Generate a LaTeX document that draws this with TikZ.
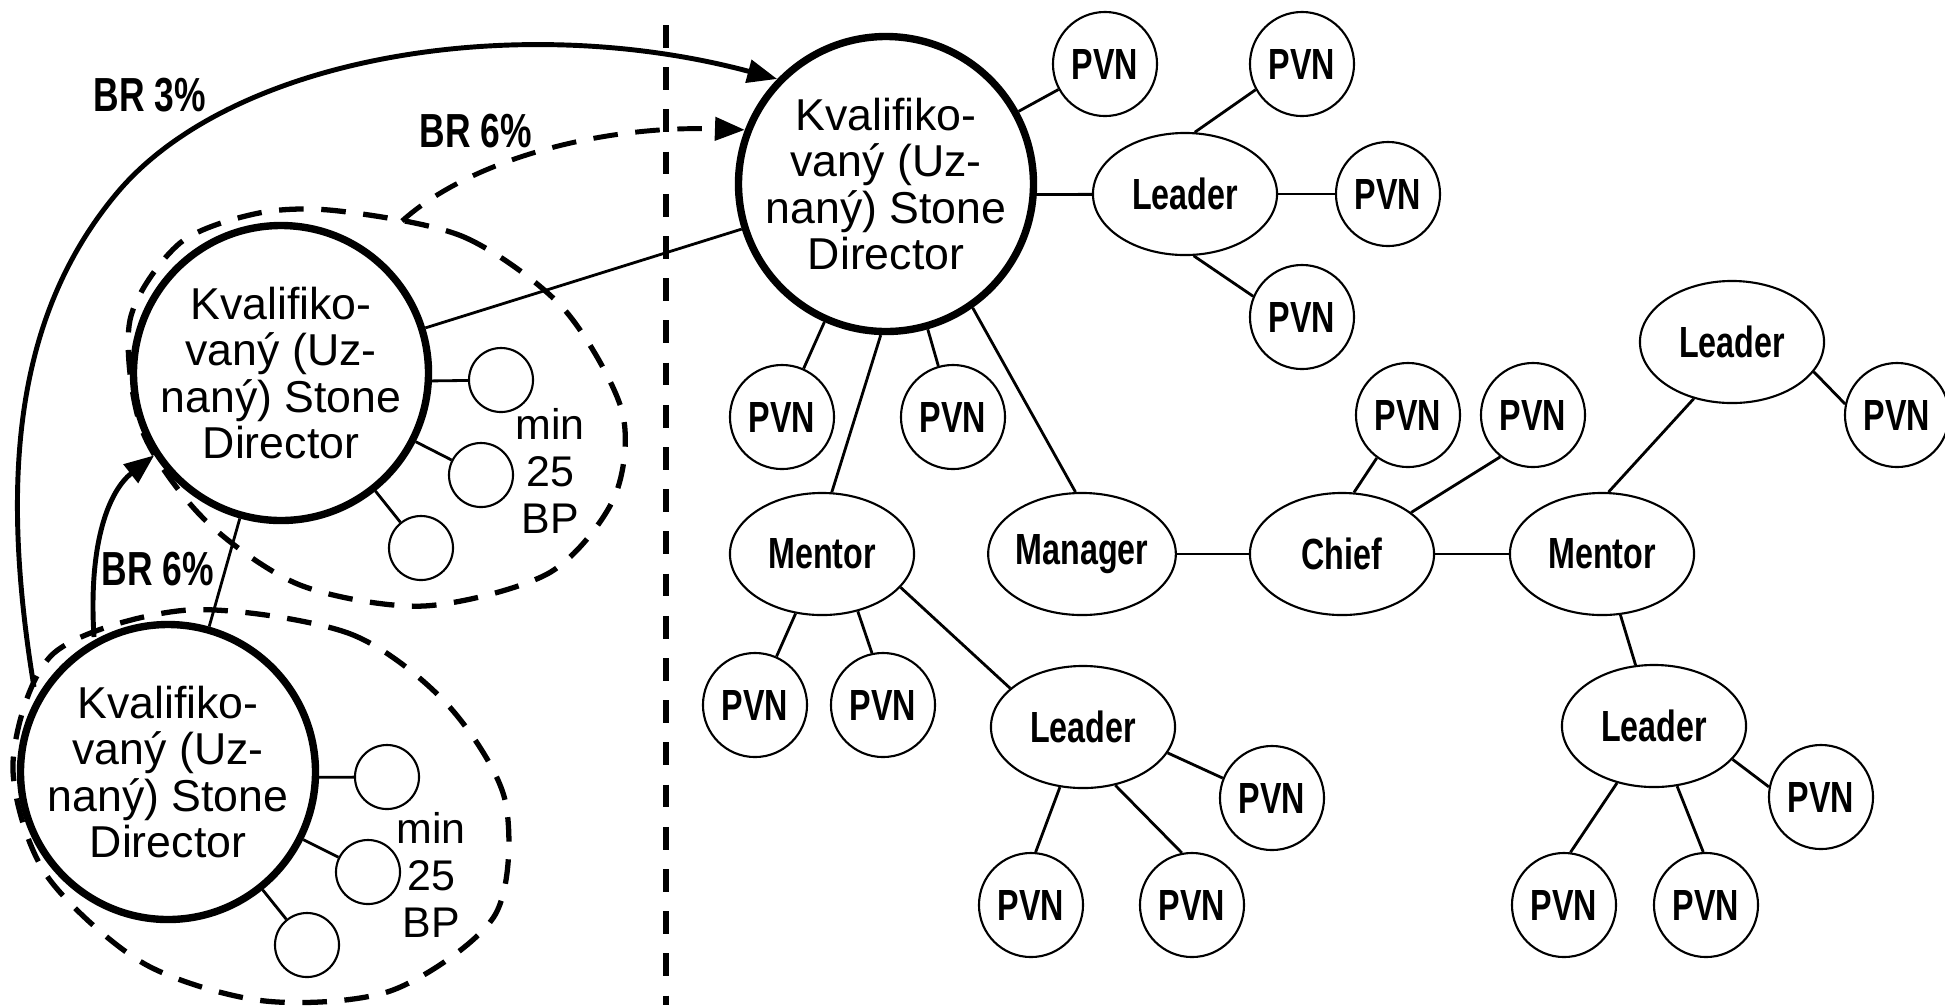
\documentclass[tikz,border=0pt]{standalone}
\usepackage{fontspec}
\usetikzlibrary{arrows.meta, shapes.geometric}
\newfontfamily\dirfont{Liberation Sans}
\newfontfamily\labfont[FakeStretch=0.74]{Liberation Sans Bold}

\tikzset{
  director/.style={circle, draw, line width=2.1pt, minimum size=2.76cm, inner sep=0pt, align=center, font={\dirfont\fontsize{12.7}{13.2}\selectfont}},
  pvn/.style={circle, draw, line width=0.6pt, minimum size=1.04cm, inner sep=0pt, font={\labfont\fontsize{12.4}{14}\selectfont}},
  role/.style={ellipse, draw, line width=0.6pt, minimum width=1.84cm, minimum height=1.22cm, inner sep=0pt, font={\labfont\fontsize{12.4}{14}\selectfont}},
  dot/.style={circle, draw, line width=0.6pt, minimum size=0.64cm, inner sep=0pt},
  link/.style={line width=0.8pt},
  grp/.style={line width=1.5pt, dash pattern=on 7pt off 5pt},
  br/.style={line width=1.4pt, -{Triangle[length=8.5pt, width=6.5pt]}},
  brlabel/.style={font={\labfont\fontsize{13.6}{15}\selectfont}},
  minbp/.style={align=center, font={\dirfont\fontsize{12.2}{13.4}\selectfont}}
}

\begin{document}
\begin{tikzpicture}[x=0.01cm, y=-0.01cm]
    \useasboundingbox (0,0) rectangle (1945,1005);

    \coordinate (divtop) at (666,25);
    \coordinate (divbot) at (666,1005);
    \draw [line width=1.6pt, dash pattern=on 6.5pt off 5.5pt] (divtop) -- (divbot);

    \draw [grp] plot [smooth cycle] coordinates {(339,211) (464,237) (563,308) (622,411) (614,498) (549,573) (424,606) (300,585) (205,520) (142,430) (130,320) (180,243) (259,213)};
    \draw [grp] plot [smooth cycle] coordinates {(188,610) (348,633) (446,703) (505,800) (495,915) (393,990) (265,1001) (143,963) (45,873) (13,763) (54,653)};
    \coordinate (g1a) at (402,221);
    \coordinate (g2a) at (34,687);
    \coordinate (g2b) at (94,637);

    \node [director] (d0) at (886,184) {Kvalifiko-\\vaný (Uz-\\naný) Stone\\Director};
    \node [director] (d1) at (281,373) {Kvalifiko-\\vaný (Uz-\\naný) Stone\\Director};
    \node [director] (d2) at (168,772) {Kvalifiko-\\vaný (Uz-\\naný) Stone\\Director};

    \node [dot] (s11) at (501,380) {};
    \node [dot] (s12) at (481,475) {};
    \node [dot] (s13) at (421,548) {};
    \node [dot] (s21) at (387,777) {};
    \node [dot] (s22) at (368,872) {};
    \node [dot] (s23) at (307,945) {};
    \node [minbp] (bp1) at (550,471) {min\\25\\BP};
    \node [minbp] (bp2) at (431,875) {min\\25\\BP};

    \node [pvn] (pa) at (1105,64) {PVN};
    \node [pvn] (pb) at (1302,64) {PVN};
    \node [role] (l1) at (1185,194) {Leader};
    \node [pvn] (pc) at (1388,194) {PVN};
    \node [pvn] (pd) at (1302,317) {PVN};
    \node [pvn] (pe) at (782,417) {PVN};
    \node [pvn] (pf) at (953,417) {PVN};
    \node [role] (m1) at (822,554) {Mentor};
    \node [role] (mgr) at (1082,554) {Manager};
    \node [role] (chief) at (1342,554) {Chief};
    \node [role] (m2) at (1602,554) {Mentor};
    \node [role] (l2) at (1732,342) {Leader};
    \node [pvn] (pg) at (1897,415) {PVN};
    \node [pvn] (ph) at (1408,415) {PVN};
    \node [pvn] (pi) at (1533,415) {PVN};
    \node [pvn] (pm) at (755,705) {PVN};
    \node [pvn] (pn) at (883,705) {PVN};
    \node [role] (l4) at (1083,727) {Leader};
    \node [pvn] (po) at (1272,798) {PVN};
    \node [pvn] (pp) at (1031,905) {PVN};
    \node [pvn] (pq) at (1192,905) {PVN};
    \node [role] (l3) at (1654,726) {Leader};
    \node [pvn] (pj) at (1821,797) {PVN};
    \node [pvn] (pk) at (1564,905) {PVN};
    \node [pvn] (pl) at (1706,905) {PVN};

    \draw [link] (d0) -- (d1);
    \draw [link] (d1) -- (d2);
    \draw [link] (d1.-3) -- (s11);
    \draw [link] (d1) -- (s12);
    \draw [link] (d1) -- (s13);
    \draw [link] (d2.-2) -- (s21);
    \draw [link] (d2) -- (s22);
    \draw [link] (d2) -- (s23);
    \draw [link] (d0) -- (pa);
    \draw [link] (d0.-4) -- (l1);
    \draw [link] (l1.81) -- (pb.209);
    \draw [link] (l1) -- (pc);
    \draw [link] (l1.-82) -- (pd.157);
    \draw [link] (d0) -- (pe);
    \draw [link] (d0) -- (pf);
    \draw [link] (d0.268) -- (m1.81);
    \draw [link] (d0.-55) -- (mgr.96);
    \draw [link] (m1) -- (pm);
    \draw [link] (m1.-58) -- (pn.102);
    \draw [link] (m1.-23) -- (l4.152);
    \draw [link] (l4.-17) -- (po.158);
    \draw [link] (l4.249) -- (pp.85);
    \draw [link] (l4.-61) -- (pq.101);
    \draw [link] (mgr) -- (chief);
    \draw [link] (chief.79) -- (ph.234);
    \draw [link] (chief.31) -- (pi.232);
    \draw [link] (chief) -- (m2);
    \draw [link] (m2.84) -- (l2.236);
    \draw [link] (m2) -- (l3);
    \draw [link] (l2.-20) -- (pg.168);
    \draw [link] (l3.-23) -- (pj.169);
    \draw [link] (l3.237) -- (pk.83);
    \draw [link] (l3.-69) -- (pl.93);

    \draw [br] (g2a) .. controls (0,480) and (14,316) .. (117,193) .. controls (233,55) and (520,10) .. (d0.136);
    \draw [br, dash pattern=on 7pt off 5pt] (g1a) .. controls (470,160) and (600,125) .. (d0.159);
    \draw [br] (g2b) .. controls (88,540) and (110,490) .. (d1.213);
    \node [brlabel] (br3) at (150,95) {BR 3\%};
    \node [brlabel] (br6a) at (476,131) {BR 6\%};
    \node [brlabel] (br6b) at (158,569) {BR 6\%};
\end{tikzpicture}
\end{document}
